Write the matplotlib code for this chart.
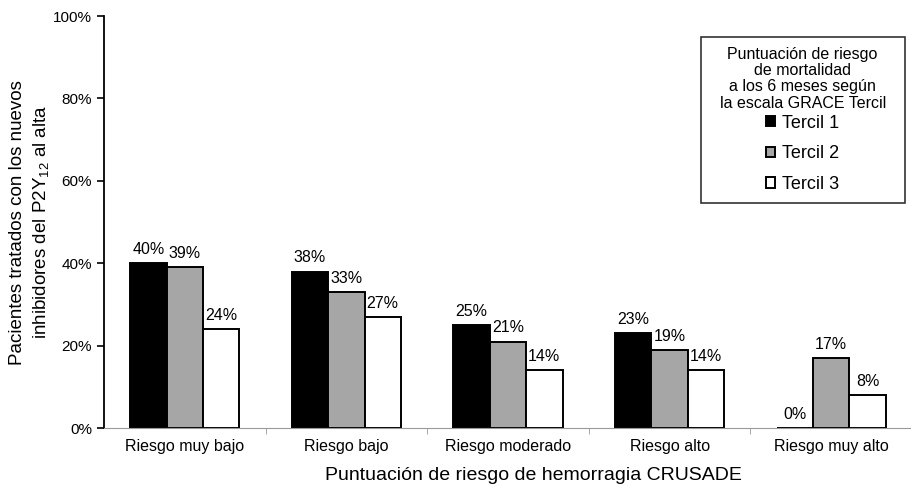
import matplotlib
matplotlib.use("Agg")
import matplotlib.pyplot as plt
import numpy as np

plt.rcParams['font.family'] = ['Liberation Sans', 'DejaVu Sans']
plt.rcParams['mathtext.fontset'] = 'custom'
plt.rcParams['mathtext.rm'] = 'Liberation Sans'
plt.rcParams['mathtext.it'] = 'Liberation Sans'

categorias = ["Riesgo muy bajo", "Riesgo bajo", "Riesgo moderado", "Riesgo alto", "Riesgo muy alto"]
tercil1 = [40, 38, 25, 23, 0]
tercil2 = [39, 33, 21, 19, 17]
tercil3 = [24, 27, 14, 14, 8]
series = ["Tercil 1", "Tercil 2", "Tercil 3"]
colores = ["#000000", "#a6a6a6", "#ffffff"]

fig = plt.figure(figsize=(9.12, 4.86), dpi=100)
ax = fig.add_axes([0.114, 0.119, 0.886, 0.848])

x = np.arange(len(categorias))
w = 0.225
for i, (vals, nombre, c) in enumerate(zip([tercil1, tercil2, tercil3], series, colores)):
    pos = x + (i - 1) * w
    ax.bar(pos, vals, width=w, color=c, edgecolor="black", linewidth=1.4, label=nombre)
    for p, v in zip(pos, vals):
        ax.text(p, v + 1.5, f"{v}%", ha="center", va="bottom", fontsize=11.5)

ax.set_xlim(-0.5, len(categorias) - 0.5)
ax.set_ylim(0, 100)
ax.set_yticks([0, 20, 40, 60, 80, 100])
ax.set_yticklabels([f"{t}%" for t in [0, 20, 40, 60, 80, 100]], fontsize=11)
ax.set_xticks(x)
ax.set_xticklabels(categorias, fontsize=11.5)
ax.set_xticks(np.arange(0.5, len(categorias) - 0.5, 1), minor=True)
ax.tick_params(axis="x", which="major", length=0, pad=8)
ax.tick_params(axis="x", which="minor", length=4, color="#999999")
ax.tick_params(axis="y", length=5, width=1.2)

ax.spines["top"].set_visible(False)
ax.spines["right"].set_visible(False)
ax.spines["bottom"].set_color("#999999")
ax.spines["left"].set_linewidth(1.3)

ax.set_xlabel("Puntuación de riesgo de hemorragia CRUSADE", fontsize=14)
ax.xaxis.set_label_coords(0.532, -0.095)
ax.set_ylabel("Pacientes tratados con los nuevos\ninhibidores del P2Y$_{12}$ al alta", fontsize=13.5,
              linespacing=1.3)
ax.yaxis.set_label_coords(-0.066, 0.5)

leg = ax.legend(title="Puntuación de riesgo\nde mortalidad\na los 6 meses según\n  la escala GRACE Tercil  ",
                loc="upper right", bbox_to_anchor=(0.991, 0.949), borderaxespad=0, fontsize=13,
                title_fontsize=11.5, frameon=True, fancybox=False, edgecolor="black",
                handlelength=0.5, handleheight=0.5, handletextpad=0.4, labelspacing=0.75, borderpad=0.55)
leg.get_frame().set_linewidth(1.2)
leg.get_title().set_multialignment("center")
leg.get_title().set_linespacing(1.1)
leg._legend_box.sep = 3

fig.savefig("out.png", dpi=100)
